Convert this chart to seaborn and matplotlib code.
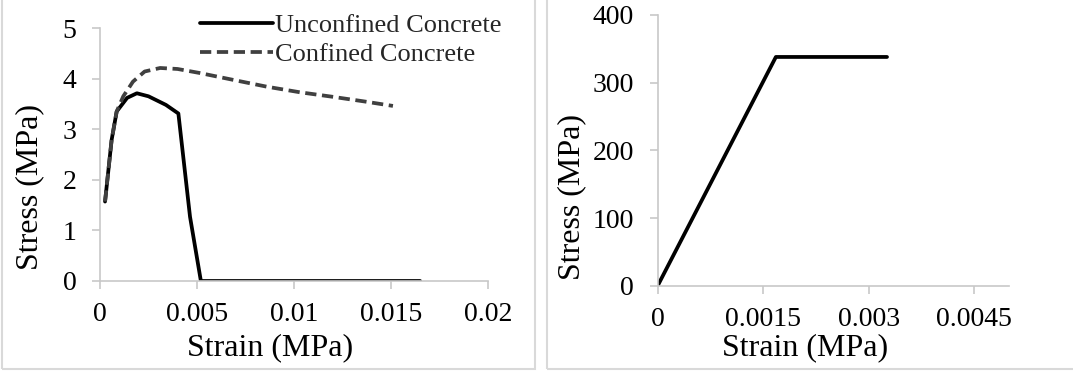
import matplotlib
matplotlib.use("Agg")
import matplotlib.pyplot as plt
from matplotlib.patches import Rectangle
import seaborn as sns
import pandas as pd

# Concrete stress-strain curves
unconf_strain = [0.00026, 0.0006, 0.00086, 0.0014, 0.0019, 0.0025, 0.0034, 0.00404, 0.00464, 0.0052, 0.0100, 0.0165]
unconf_stress = [1.57, 2.79, 3.35, 3.62, 3.71, 3.65, 3.48, 3.31, 1.27, 0.0, 0.0, 0.0]

conf_strain = [0.00026, 0.0006, 0.00086, 0.0012, 0.0017, 0.0023, 0.0031, 0.0040, 0.00515, 0.0068, 0.0086, 0.0103, 0.0120, 0.0136, 0.0151]
conf_stress = [1.57, 2.79, 3.35, 3.65, 3.94, 4.14, 4.21, 4.19, 4.11, 3.98, 3.84, 3.73, 3.64, 3.55, 3.46]

# Steel stress-strain curve (elastic-perfectly plastic)
steel_strain = [0.0, 0.00168, 0.0024, 0.00326]
steel_stress = [0.0, 338, 338, 338]

conc_xticks = [0, 0.005, 0.01, 0.015, 0.02]
conc_xlabels = ["0", "0.005", "0.01", "0.015", "0.02"]
conc_yticks = [0, 1, 2, 3, 4, 5]
steel_xticks = [0, 0.0015, 0.003, 0.0045]
steel_xlabels = ["0", "0.0015", "0.003", "0.0045"]
steel_yticks = [0, 100, 200, 300, 400]

sns.set_theme(style="white")
plt.rcParams["font.family"] = ["Liberation Serif", "DejaVu Serif"]
TICK_FS = 20
LABEL_FS = 23
LEGEND_FS = 19

fig = plt.figure(figsize=(10.73, 3.76), dpi=100)

# panel frames
fig.patches.append(Rectangle((2 / 1073, 7 / 376), 533 / 1073, 372 / 376,
                             transform=fig.transFigure, fill=False,
                             edgecolor="#d9d9d9", linewidth=1.5))
fig.patches.append(Rectangle((547 / 1073, 7 / 376), 530 / 1073, 372 / 376,
                             transform=fig.transFigure, fill=False,
                             edgecolor="#d9d9d9", linewidth=1.5))

ax1 = fig.add_axes([100 / 1073, 95 / 376, 388 / 1073, 253 / 376])
ax2 = fig.add_axes([657.7 / 1073, 90.3 / 376, 351.7 / 1073, 270.7 / 376])

df_u = pd.DataFrame({"strain": unconf_strain, "stress": unconf_stress})
df_c = pd.DataFrame({"strain": conf_strain, "stress": conf_stress})
df_s = pd.DataFrame({"strain": steel_strain, "stress": steel_stress})

sns.lineplot(data=df_u, x="strain", y="stress", sort=False, ax=ax1,
             color="black", linewidth=2.7, label="Unconfined Concrete")
sns.lineplot(data=df_c, x="strain", y="stress", sort=False, ax=ax1,
             color="#404040", linewidth=2.7, linestyle=(0, (3, 1.5)),
             label="Confined Concrete")
sns.lineplot(data=df_s, x="strain", y="stress", sort=False, ax=ax2,
             color="black", linewidth=2.7)

ax1.set_xlim(0, 0.02)
ax1.set_ylim(0, 5)
ax1.set_xticks(conc_xticks)
ax1.set_xticklabels(conc_xlabels)
ax1.set_yticks(conc_yticks)

ax2.set_xlim(0, 0.005)
ax2.set_ylim(0, 400)
ax2.set_xticks(steel_xticks)
ax2.set_xticklabels(steel_xlabels)
ax2.set_yticks(steel_yticks)

for ax in (ax1, ax2):
    ax.set_xlabel("Strain (MPa)", fontsize=LABEL_FS, color="black", va="center")
    ax.set_ylabel("Stress (MPa)", fontsize=LABEL_FS, color="black", va="center")
    for s in ("top", "right"):
        ax.spines[s].set_visible(False)
    for s in ("left", "bottom"):
        ax.spines[s].set_color("#c8c8c8")
        ax.spines[s].set_linewidth(1.2)
    ax.tick_params(axis="both", which="major", direction="out", length=6,
                   width=1.2, color="#c8c8c8", labelsize=TICK_FS, labelcolor="black",
                   bottom=True, left=True)
    ax.tick_params(axis="x", pad=9)
    ax.tick_params(axis="y", pad=11)
    ax.set_facecolor("white")

ax1.xaxis.set_label_coords(0.438, -0.265)
ax1.yaxis.set_label_coords(-0.18, 0.37)
ax2.xaxis.set_label_coords(0.419, -0.23)
ax2.yaxis.set_label_coords(-0.244, 0.328)

ax1.legend(loc="upper left", bbox_to_anchor=(200 / 1073, 1 - 14 / 376),
           bbox_transform=fig.transFigure, frameon=False, fontsize=LEGEND_FS,
           handlelength=2.75, handletextpad=0.1, borderpad=0,
           borderaxespad=0, labelspacing=0.2)

fig.savefig("out.png", dpi=100, facecolor="white")
